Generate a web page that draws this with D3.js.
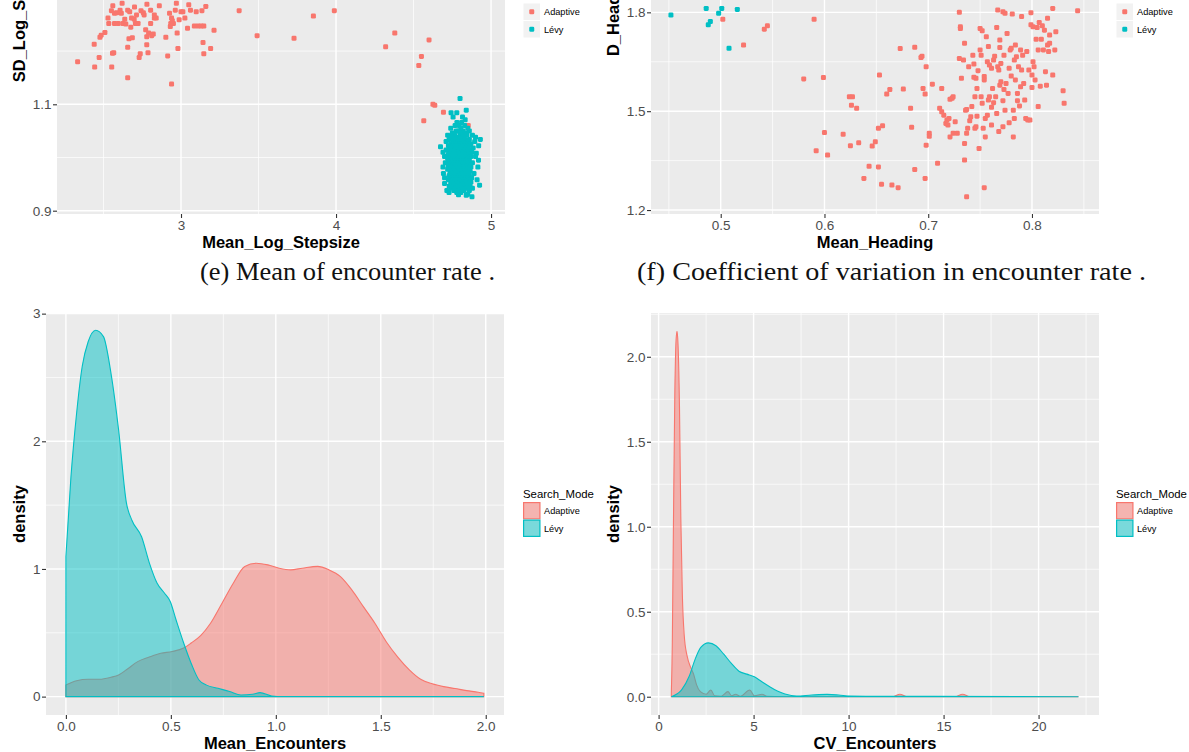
<!DOCTYPE html>
<html>
<head>
<meta charset="utf-8">
<script src="https://cdn.jsdelivr.net/npm/d3@7"></script>
<style>
body{margin:0;background:#fff}
text{font-family:"Liberation Sans",Arial,sans-serif}
</style>
</head>
<body>
<svg id="fig" width="1189" height="752"></svg>
<script>
const modes = ["Adaptive", "Lévy"];
const colors = {"Adaptive": "#F8766D", "Lévy": "#00BFC4"};

// (top left) Mean_Log_Stepsize vs SD_Log_Stepsize
const stepAdaptive = [[2.333,1.180],[2.440,1.213],[2.443,1.170],[2.472,1.188],[2.477,1.226],[2.485,1.230],[2.509,1.235],[2.534,1.252],[2.529,1.262],[2.553,1.170],[2.558,1.196],[2.566,1.197],[2.551,1.276],[2.571,1.271],[2.585,1.272],[2.571,1.252],[2.595,1.252],[2.607,1.277],[2.615,1.271],[2.625,1.252],[2.644,1.251],[2.637,1.260],[2.656,1.277],[2.669,1.274],[2.681,1.262],[2.656,1.207],[2.656,1.150],[2.664,1.223],[2.686,1.225],[2.676,1.245],[2.698,1.260],[2.706,1.252],[2.713,1.268],[2.723,1.252],[2.730,1.188],[2.737,1.195],[2.742,1.276],[2.757,1.272],[2.762,1.268],[2.772,1.240],[2.779,1.227],[2.779,1.212],[2.787,1.197],[2.791,1.234],[2.804,1.252],[2.811,1.229],[2.821,1.232],[2.828,1.262],[2.804,1.277],[2.828,1.268],[2.840,1.262],[2.902,1.226],[2.914,1.191],[2.926,1.271],[2.934,1.252],[2.931,1.246],[2.939,1.262],[2.944,1.257],[2.951,1.252],[2.963,1.277],[2.975,1.234],[2.980,1.205],[2.988,1.259],[2.939,1.138],[3.000,1.274],[3.012,1.274],[3.025,1.262],[3.042,1.243],[3.061,1.277],[3.086,1.247],[3.098,1.274],[3.110,1.247],[3.130,1.247],[3.135,1.276],[3.147,1.247],[3.142,1.216],[3.147,1.195],[3.191,1.205],[3.213,1.239],[3.375,1.276],[3.491,1.229],[3.729,1.224],[3.854,1.266],[3.989,1.276],[4.320,1.208],[4.379,1.234],[4.534,1.173],[4.551,1.190],[4.600,1.221],[4.625,1.100],[4.637,1.098],[4.566,1.069],[4.693,1.085],[4.755,1.044],[4.853,1.060],
  [2.56,1.285],[2.62,1.290],[2.70,1.283],[2.78,1.288],[2.86,1.285],[2.97,1.290],[3.05,1.287],[3.16,1.284]];
const stepLevy = [[4.80,1.111],[4.84,1.089],[4.742,1.084],[4.779,1.084],[4.816,1.076],[4.755,1.076],[4.833,1.071],[4.78,1.066],[4.81,1.066],
  [4.795,1.060],[4.83,1.060],[4.768,1.060],[4.74,1.055],[4.805,1.055],[4.85,1.055],[4.775,1.050],[4.82,1.050],[4.79,1.050],[4.86,1.050],
  [4.75,1.046],[4.80,1.046],[4.835,1.046],[4.72,1.042],[4.765,1.042],[4.81,1.042],[4.845,1.042],[4.88,1.042],
  [4.745,1.038],[4.79,1.038],[4.825,1.038],[4.90,1.038],[4.73,1.034],[4.77,1.034],[4.80,1.034],[4.86,1.034],[4.83,1.034],[4.931,1.034],
  [4.71,1.030],[4.755,1.030],[4.785,1.030],[4.815,1.030],[4.85,1.030],[4.895,1.030],[4.74,1.026],[4.77,1.026],[4.80,1.026],[4.835,1.026],[4.87,1.026],
  [4.674,1.020],[4.725,1.022],[4.76,1.022],[4.79,1.022],[4.82,1.022],[4.855,1.022],[4.92,1.022],
  [4.745,1.018],[4.775,1.018],[4.805,1.018],[4.84,1.018],[4.885,1.018],[4.71,1.014],[4.735,1.014],[4.765,1.014],[4.795,1.014],[4.83,1.014],[4.86,1.014],
  [4.69,1.010],[4.75,1.010],[4.78,1.010],[4.81,1.010],[4.845,1.010],[4.875,1.010],[4.905,1.008],
  [4.725,1.006],[4.76,1.006],[4.79,1.006],[4.82,1.006],[4.855,1.006],[4.70,1.002],[4.74,1.002],[4.77,1.002],[4.80,1.002],[4.835,1.002],[4.87,1.002],[4.90,1.002],
  [4.72,0.998],[4.755,0.998],[4.785,0.998],[4.815,0.998],[4.85,0.998],[4.919,0.995],[4.73,0.994],[4.765,0.994],[4.795,0.994],[4.825,0.994],[4.86,0.994],
  [4.705,0.990],[4.745,0.990],[4.775,0.990],[4.81,0.990],[4.84,0.990],[4.88,0.990],[4.725,0.986],[4.76,0.986],[4.79,0.986],[4.82,0.986],[4.855,0.986],
  [4.69,0.982],[4.74,0.982],[4.77,0.982],[4.80,0.982],[4.835,0.982],[4.87,0.982],[4.915,0.982],[4.72,0.978],[4.755,0.978],[4.785,0.978],[4.815,0.978],[4.85,0.978],
  [4.735,0.974],[4.765,0.974],[4.80,0.974],[4.83,0.974],[4.865,0.974],[4.693,0.970],[4.75,0.970],[4.78,0.970],[4.81,0.970],[4.845,0.970],[4.89,0.970],
  [4.73,0.966],[4.765,0.966],[4.795,0.966],[4.825,0.966],[4.86,0.966],[4.70,0.962],[4.745,0.962],[4.775,0.962],[4.805,0.962],[4.84,0.962],[4.875,0.962],
  [4.725,0.958],[4.76,0.958],[4.79,0.958],[4.82,0.958],[4.855,0.958],[4.91,0.958],[4.74,0.954],[4.77,0.954],[4.80,0.954],[4.835,0.954],[4.87,0.954],
  [4.70,0.951],[4.755,0.950],[4.785,0.950],[4.815,0.950],[4.85,0.950],[4.926,0.948],[4.73,0.946],[4.765,0.946],[4.80,0.946],[4.83,0.946],[4.865,0.946],
  [4.745,0.942],[4.78,0.942],[4.81,0.942],[4.845,0.942],[4.88,0.942],[4.715,0.938],[4.76,0.938],[4.79,0.938],[4.825,0.938],[4.86,0.938],
  [4.729,0.934],[4.779,0.934],[4.805,0.934],[4.84,0.929],[4.79,0.930],[4.85,0.931],[4.877,0.926]];

// (top right) Mean_Heading vs D_Heading
const headAdaptive = [[0.502,1.779],[0.542,1.749],[0.545,1.759],[0.522,1.701],[0.590,1.779],[0.580,1.598],[0.599,1.602],[0.592,1.380],[0.600,1.435],[0.603,1.367],[0.618,1.430],[0.624,1.544],[0.626,1.518],[0.627,1.544],[0.631,1.509],[0.625,1.395],[0.633,1.404],[0.638,1.296],[0.643,1.333],[0.646,1.394],[0.649,1.407],[0.652,1.448],[0.652,1.331],[0.653,1.610],[0.655,1.278],[0.656,1.456],[0.660,1.552],[0.663,1.566],[0.665,1.276],[0.671,1.268],[0.673,1.690],[0.676,1.567],[0.683,1.509],[0.684,1.451],[0.687,1.694],[0.687,1.323],[0.693,1.663],[0.694,1.667],[0.695,1.569],[0.697,1.296],[0.698,1.635],[0.697,1.552],[0.698,1.397],[0.701,1.433],[0.701,1.424],[0.704,1.582],[0.709,1.342],[0.711,1.509],[0.713,1.569],[0.713,1.498],[0.715,1.488],[0.717,1.463],[0.718,1.473],[0.719,1.458],[0.720,1.478],[0.721,1.422],[0.721,1.536],[0.723,1.539],[0.724,1.544],[0.724,1.433],[0.726,1.468],[0.728,1.433],[0.730,1.800],[0.731,1.756],[0.731,1.751],[0.730,1.660],[0.732,1.600],[0.734,1.655],[0.735,1.706],[0.736,1.503],[0.737,1.505],[0.737,1.433],[0.735,1.402],[0.735,1.352],[0.737,1.240],[0.738,1.448],[0.739,1.635],[0.740,1.471],[0.741,1.483],[0.742,1.514],[0.743,1.670],[0.744,1.643],[0.744,1.603],[0.745,1.544],[0.745,1.448],[0.746,1.600],[0.746,1.453],[0.747,1.485],[0.747,1.569],[0.748,1.623],[0.749,1.387],[0.750,1.751],[0.750,1.686],[0.751,1.670],[0.752,1.744],[0.752,1.524],[0.751,1.544],[0.753,1.448],[0.754,1.605],[0.754,1.595],[0.755,1.422],[0.754,1.268],[0.755,1.478],[0.756,1.726],[0.757,1.650],[0.757,1.488],[0.758,1.534],[0.758,1.696],[0.759,1.640],[0.759,1.544],[0.761,1.458],[0.761,1.630],[0.761,1.512],[0.762,1.569],[0.763,1.655],[0.763,1.526],[0.764,1.667],[0.765,1.544],[0.766,1.493],[0.766,1.754],[0.767,1.807],[0.767,1.635],[0.768,1.625],[0.768,1.438],[0.769,1.716],[0.769,1.693],[0.769,1.579],[0.770,1.589],[0.770,1.645],[0.772,1.532],[0.772,1.453],[0.772,1.802],[0.773,1.670],[0.773,1.566],[0.774,1.797],[0.774,1.503],[0.775,1.584],[0.776,1.736],[0.777,1.554],[0.778,1.630],[0.778,1.465],[0.779,1.686],[0.780,1.607],[0.780,1.691],[0.781,1.795],[0.782,1.503],[0.782,1.422],[0.783,1.478],[0.783,1.655],[0.784,1.701],[0.784,1.595],[0.785,1.665],[0.786,1.554],[0.786,1.532],[0.787,1.635],[0.788,1.516],[0.789,1.686],[0.789,1.574],[0.790,1.787],[0.790,1.625],[0.791,1.670],[0.792,1.584],[0.793,1.534],[0.794,1.478],[0.795,1.681],[0.796,1.473],[0.797,1.625],[0.798,1.473],[0.799,1.799],[0.799,1.762],[0.800,1.610],[0.800,1.572],[0.801,1.756],[0.801,1.650],[0.802,1.635],[0.803,1.595],[0.804,1.718],[0.805,1.754],[0.806,1.686],[0.806,1.514],[0.807,1.769],[0.808,1.576],[0.809,1.718],[0.810,1.759],[0.811,1.686],[0.812,1.746],[0.813,1.620],[0.814,1.579],[0.815,1.782],[0.815,1.701],[0.816,1.681],[0.817,1.706],[0.817,1.731],[0.820,1.610],[0.820,1.812],[0.822,1.686],[0.823,1.741],[0.830,1.562],[0.831,1.524],[0.844,1.805]];
const headLevy = [[0.452,1.792],[0.486,1.812],[0.488,1.762],[0.490,1.772],[0.498,1.797],[0.501,1.812],[0.516,1.809],[0.508,1.691]];

// (bottom left) density of Mean_Encounters
const encAdaptive = [[0,0.091],[0.051,0.125],[0.106,0.136],[0.16,0.136],[0.215,0.152],[0.251,0.17],[0.288,0.21],[0.342,0.274],[0.397,0.31],[0.452,0.34],[0.506,0.353],[0.561,0.38],[0.597,0.42],[0.643,0.48],[0.689,0.575],[0.743,0.73],[0.798,0.89],[0.852,1.02],[0.907,1.045],[0.962,1.032],[1.016,1.006],[1.071,0.993],[1.126,1.006],[1.199,1.02],[1.253,0.993],[1.308,0.94],[1.362,0.836],[1.417,0.705],[1.472,0.575],[1.526,0.43],[1.581,0.31],[1.636,0.21],[1.69,0.136],[1.745,0.1],[1.8,0.078],[1.854,0.063],[1.909,0.047],[1.964,0.034],[1.991,0.026]];
const encLevy = [[0,1.097],[0.024,1.72],[0.051,2.22],[0.078,2.59],[0.106,2.78],[0.142,2.87],[0.179,2.82],[0.215,2.53],[0.251,2.09],[0.288,1.52],[0.315,1.38],[0.361,1.25],[0.397,1.05],[0.434,0.89],[0.47,0.81],[0.497,0.745],[0.525,0.60],[0.561,0.42],[0.597,0.26],[0.634,0.13],[0.67,0.09],[0.725,0.065],[0.78,0.04],[0.834,0.013],[0.889,0.018],[0.925,0.031],[0.98,0.005],[1.035,0],[1.991,0]];

// (bottom right) density of CV_Encounters
const cvAdaptive = [[0.67,0.02],[0.72,0.3],[0.78,1.0],[0.85,1.75],[0.92,2.1],[0.97,2.15],[1.02,2.08],[1.1,1.7],[1.17,1.05],[1.25,0.6],[1.35,0.36],[1.5,0.24],[1.7,0.17],[1.85,0.13],[2.0,0.07],[2.2,0.03],[2.5,0.015],[2.75,0.04],[2.95,0.005],[3.3,0.003],[3.65,0.03],[3.85,0.005],[4.05,0.015],[4.3,0.003],[4.8,0.04],[5.05,0.005],[5.45,0.015],[5.7,0.002],[6.5,0],[12.3,0],[12.7,0.015],[13.1,0],[15.6,0],[16.0,0.015],[16.4,0],[22.1,0]];
const cvLevy = [[0.67,0],[1.21,0.04],[1.61,0.12],[1.92,0.22],[2.22,0.29],[2.62,0.317],[3.02,0.30],[3.43,0.25],[3.83,0.196],[4.23,0.15],[4.64,0.133],[5.04,0.117],[5.44,0.088],[5.85,0.059],[6.25,0.033],[6.65,0.016],[7.26,0.004],[8.06,0.01],[8.87,0.014],[9.48,0.01],[10.08,0.004],[11.7,0.002],[14.5,0.002],[22.1,0]];

const captionE = "(e) Mean of encounter rate .";
const captionF = "(f) Coefficient of variation in encounter rate .";

const svg = d3.select("#fig");
svg.append("rect").attr("width", 1189).attr("height", 752).attr("fill", "#fff");

let clipId = 0;
function panel(cfg) {
  const {x, y} = cfg;
  const [x0, x1] = x.range(), [yb, yt] = y.range();
  const g = svg.append("g");
  g.append("rect").attr("x", x0).attr("y", yt).attr("width", x1 - x0).attr("height", yb - yt).attr("fill", "#EBEBEB");
  const grid = (vals, vert, w) => g.append("g").selectAll("line").data(vals).join("line")
    .attr("x1", d => vert ? x(d) : x0).attr("x2", d => vert ? x(d) : x1)
    .attr("y1", d => vert ? yt : y(d)).attr("y2", d => vert ? yb : y(d))
    .attr("stroke", "#fff").attr("stroke-width", w);
  grid(cfg.xMinor, true, 0.7); grid(cfg.yMinor, false, 0.7);
  grid(cfg.xMajor, true, 1.4); grid(cfg.yMajor, false, 1.4);

  // only label the ticks that fall inside the picture
  const yLabelled = cfg.yMajor.filter(v => y(v) > 6);
  const ax = g.append("g").attr("transform", `translate(0,${yb})`)
    .call(d3.axisBottom(x).tickValues(cfg.xMajor).tickFormat(cfg.xFmt).tickSize(4).tickPadding(2.5));
  const ay = g.append("g").attr("transform", `translate(${x0},0)`)
    .call(d3.axisLeft(y).tickValues(yLabelled).tickFormat(cfg.yFmt).tickSize(4).tickPadding(1.5));
  [ax, ay].forEach(a => {
    a.select(".domain").remove();
    a.selectAll("line").attr("stroke", "#333").attr("stroke-width", 1.1);
    a.selectAll("text").attr("fill", "#4D4D4D").style("font-size", "13.5px").style("font-family", "Liberation Sans, Arial, sans-serif");
  });

  g.append("text").attr("x", (x0 + x1) / 2).attr("y", yb + 34).attr("text-anchor", "middle")
    .style("font-size", "16.5px").style("font-weight", "bold").text(cfg.xTitle);
  g.append("text").attr("transform", `translate(${cfg.yTitleX},${(yb + yt) / 2}) rotate(-90)`)
    .attr("text-anchor", "middle").style("font-size", "16.5px").style("font-weight", "bold").text(cfg.yTitle);

  const id = "clip" + (clipId++);
  svg.append("clipPath").attr("id", id).append("rect")
    .attr("x", x0).attr("y", yt).attr("width", x1 - x0).attr("height", yb - yt);
  return g.append("g").attr("clip-path", `url(#${id})`);
}

const pt = 5; // point marker size
function scatter(layer, x, y, sets) {
  sets.forEach(([mode, pts]) => {
    layer.append("g").selectAll("rect").data(pts).join("rect")
      .attr("x", d => x(d[0]) - pt / 2).attr("y", d => y(d[1]) - pt / 2)
      .attr("width", pt).attr("height", pt).attr("rx", 1.3)
      .attr("fill", colors[mode]);
  });
}

function density(layer, x, y, sets) {
  sets.forEach(([mode, pts]) => {
    const area = d3.area().x(d => x(d[0])).y0(y(0)).y1(d => y(d[1])).curve(d3.curveMonotoneX);
    layer.append("path").datum(pts).attr("d", area)
      .attr("fill", colors[mode]).attr("fill-opacity", 0.5)
      .attr("stroke", colors[mode]).attr("stroke-width", 1.1);
  });
}

function legend(lx, top, kind) {
  const g = svg.append("g");
  if (top > 20) g.append("text").attr("x", lx).attr("y", top - 4).style("font-size", "11.4px").attr("fill", "#000").text("Search_Mode");
  modes.forEach((m, i) => {
    const ky = top + i * 17.5;
    if (kind === "point") {
      g.append("rect").attr("x", lx + 0.5).attr("y", ky + 0.5).attr("width", 16.5).attr("height", 16.5).attr("fill", "#F2F2F2");
      g.append("rect").attr("x", lx + 8.75 - pt / 2).attr("y", ky + 8.75 - pt / 2).attr("width", pt).attr("height", pt)
        .attr("rx", 1.3).attr("fill", colors[m]);
    } else {
      g.append("rect").attr("x", lx).attr("y", ky).attr("width", 17.5).attr("height", 17.5).attr("fill", "#F2F2F2");
      g.append("rect").attr("x", lx + 0.6).attr("y", ky + 0.6).attr("width", 16.3).attr("height", 16.3)
        .attr("fill", colors[m]).attr("fill-opacity", 0.5).attr("stroke", colors[m]).attr("stroke-width", 1.2);
    }
    g.append("text").attr("x", lx + 21).attr("y", ky + 12).style("font-size", "9.2px").attr("fill", "#000").text(m);
  });
}

// panel e (top left)
{
  const x = d3.scaleLinear().domain([2.2, 5.09]).range([57, 505]);
  const y = d3.scaleLinear().domain([0.8938, 1.6494]).range([214, -188]);
  const layer = panel({x, y, xMajor: [3, 4, 5], xMinor: [2.5, 3.5, 4.5], yMajor: [0.9, 1.1, 1.3, 1.5], yMinor: [1.0, 1.2, 1.4, 1.6],
    xFmt: d3.format("d"), yFmt: d3.format(".1f"), xTitle: "Mean_Log_Stepsize", yTitle: "SD_Log_Stepsize", yTitleX: 25});
  scatter(layer, x, y, [["Adaptive", stepAdaptive], ["Lévy", stepLevy]]);
  legend(523, 3, "point");
}
// panel f (top right)
{
  const x = d3.scaleLinear().domain([0.4328, 0.8646]).range([651, 1099]);
  const y = d3.scaleLinear().domain([1.188, 2.408]).range([214, -188]);
  const layer = panel({x, y, xMajor: [0.5, 0.6, 0.7, 0.8], xMinor: [0.45, 0.55, 0.65, 0.75, 0.85], yMajor: [1.2, 1.5, 1.8, 2.1], yMinor: [1.35, 1.65, 1.95, 2.25],
    xFmt: d3.format(".1f"), yFmt: d3.format(".1f"), xTitle: "Mean_Heading", yTitle: "D_Heading", yTitleX: 619});
  scatter(layer, x, y, [["Adaptive", headAdaptive], ["Lévy", headLevy]]);
  legend(1116, 3, "point");
}
// panel g (bottom left)
{
  const x = d3.scaleLinear().domain([-0.0948, 2.087]).range([46, 504]);
  const y = d3.scaleLinear().domain([-0.144, 3.005]).range([715, 313]);
  const layer = panel({x, y, xMajor: [0, 0.5, 1, 1.5, 2], xMinor: [0.25, 0.75, 1.25, 1.75], yMajor: [0, 1, 2, 3], yMinor: [0.5, 1.5, 2.5],
    xFmt: d3.format(".1f"), yFmt: d3.format("d"), xTitle: "Mean_Encounters", yTitle: "density", yTitleX: 25});
  density(layer, x, y, [["Adaptive", encAdaptive], ["Lévy", encLevy]]);
  legend(523, 502, "fill");
}
// panel h (bottom right)
{
  const x = d3.scaleLinear().domain([-0.40, 23.18]).range([651, 1099]);
  const y = d3.scaleLinear().domain([-0.1075, 2.2575]).range([715, 313]);
  const layer = panel({x, y, xMajor: [0, 5, 10, 15, 20], xMinor: [2.5, 7.5, 12.5, 17.5, 22.5], yMajor: [0, 0.5, 1, 1.5, 2], yMinor: [0.25, 0.75, 1.25, 1.75, 2.25],
    xFmt: d3.format("d"), yFmt: d3.format(".1f"), xTitle: "CV_Encounters", yTitle: "density", yTitleX: 619});
  density(layer, x, y, [["Adaptive", cvAdaptive], ["Lévy", cvLevy]]);
  legend(1116, 502, "fill");
}

// captions
[[captionE, 200, 295], [captionF, 637, 509]].forEach(([t, x, w]) => {
  svg.append("text").attr("x", x).attr("y", 280).attr("textLength", w).attr("lengthAdjust", "spacingAndGlyphs")
    .style("font-family", "Liberation Serif, 'DejaVu Serif', serif").style("font-size", "25.5px").attr("fill", "#111").text(t);
});
</script>
</body>
</html>
